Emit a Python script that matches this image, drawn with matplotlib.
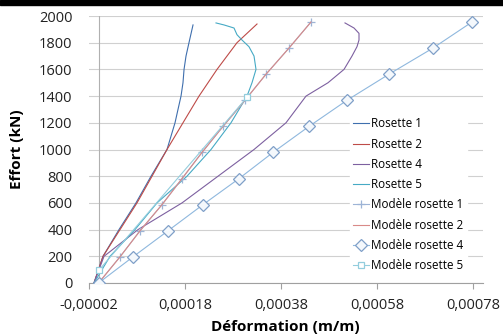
import matplotlib.pyplot as plt
from matplotlib.patches import Rectangle

plt.rcParams['font.family'] = ['Open Sans', 'DejaVu Sans']

# Mesures (déformation en m/m, effort en kN)
r1_eps = [-0.0000096, 0.0000092, 0.0000425, 0.0000779, 0.0001092, 0.0001425, 0.0001592,
          0.0001654, 0.0001717, 0.0001758, 0.000178, 0.0001821, 0.0001883, 0.0001946, 0.0001967]
r1_eff = [0, 200, 400, 600, 800, 1000, 1200, 1300, 1400, 1500, 1600, 1700, 1800, 1900, 1933]

r2_eps = [-0.0000096, 0.0000092, 0.0000446, 0.00008, 0.0001113, 0.0001425, 0.0001758,
          0.0002092, 0.0002467, 0.0002883, 0.00033]
r2_eff = [0, 200, 400, 600, 800, 1000, 1200, 1400, 1600, 1800, 1940]

r4_eps = [-0.0000096, 0.0000113, 0.0000821, 0.0001738, 0.0002488, 0.0003238, 0.0003904,
          0.0004321, 0.0004779, 0.0005113, 0.0005279, 0.0005383, 0.0005425, 0.0005425,
          0.0005321, 0.0005133]
r4_eff = [0, 200, 400, 600, 800, 1000, 1200, 1400, 1500, 1600, 1700, 1770, 1820, 1870, 1910, 1948]

r5_eps = [-0.0000096, 0.0000238, 0.0000758, 0.0001217, 0.0001842, 0.0002342, 0.0002758,
          0.0003092, 0.0003196, 0.0003279, 0.0003238, 0.0003133, 0.0002988, 0.0002883,
          0.0002821, 0.0002613, 0.0002446]
r5_eff = [0, 200, 400, 600, 800, 1000, 1200, 1400, 1500, 1600, 1700, 1770, 1820, 1860,
          1910, 1933, 1948]

# Modèles
m_eff = [0, 196, 391, 587, 782, 978, 1173, 1369, 1564, 1760, 1955]
m2_eps = [0, 0.0000446, 0.0000863, 0.0001321, 0.0001738, 0.0002154, 0.0002592,
          0.000305, 0.0003488, 0.0003967, 0.0004425]
m1_eps = m2_eps
m4_eps = [0, 0.0000717, 0.0001446, 0.0002175, 0.0002925, 0.0003633, 0.0004383,
          0.0005175, 0.000605, 0.0006967, 0.0007779]
m5_eps = [0.000001, 0.000309]
m5_eff = [97, 1390]

x_ticks = [-0.00002, 0.00018, 0.00038, 0.00058, 0.00078]
x_labels = ['-0,00002', '0,00018', '0,00038', '0,00058', '0,00078']
y_ticks = list(range(0, 2001, 200))

fig = plt.figure(figsize=(5.03, 3.36), dpi=100)
ax = fig.add_axes([89 / 503, 1 - 283 / 336, 393.6 / 503, 267 / 336])

# bandeau noir en haut
fig.patches.append(Rectangle((0, 1 - 4.5 / 336), 1, 4.5 / 336, transform=fig.transFigure,
                             color='black', zorder=10))

lw = 0.8
ax.plot(r1_eps, r1_eff, color='#3F6FAE', lw=lw, label='Rosette 1', zorder=3)
ax.plot(r2_eps, r2_eff, color='#BE4B48', lw=lw, label='Rosette 2', zorder=3)
ax.plot(r4_eps, r4_eff, color='#7D60A0', lw=lw, label='Rosette 4', zorder=3)
ax.plot(r5_eps, r5_eff, color='#46AAC5', lw=lw, label='Rosette 5', zorder=3)
ax.plot(m1_eps, m_eff, color='#9DB4D6', lw=lw, marker='+', ms=6, mew=0.9,
        label='Modèle rosette 1', zorder=4)
ax.plot(m2_eps, m_eff, color='#D98A88', lw=lw, label='Modèle rosette 2', zorder=4)
ax.plot(m4_eps, m_eff, color='#8FB8DE', lw=lw, marker='D', ms=6.5, mfc='#F4F8FC',
        mec='#7F9FC8', mew=0.9, label='Modèle rosette 4', zorder=4)
ax.plot(m5_eps, m5_eff, color='#93CDDD', lw=lw, marker='s', ms=5, mfc='white',
        mec='#93CDDD', mew=0.9, label='Modèle rosette 5', zorder=4)

ax.set_xlim(-0.00002, 0.00080)
ax.set_ylim(0, 2000)
ax.set_xticks(x_ticks)
ax.set_xticklabels(x_labels)
ax.set_yticks(y_ticks)

ax.grid(axis='y', color='#D0D0D0', lw=0.8)
ax.set_axisbelow(True)
for s in ['top', 'right', 'left']:
    ax.spines[s].set_visible(False)
ax.spines['bottom'].set_color('#A0A0A0')
ax.spines['bottom'].set_linewidth(0.8)
ax.axvline(0, color='#B0B0B0', lw=0.8, zorder=1)

ax.tick_params(axis='y', length=0, pad=12, labelsize=10.5, labelcolor='#222222')
ax.tick_params(axis='x', length=4, width=0.8, color='#A0A0A0', pad=7, labelsize=10.5,
               labelcolor='#222222')

ax.set_xlabel('Déformation (m/m)', fontsize=11, fontweight='bold', labelpad=5)
ax.set_ylabel('Effort (kN)', fontsize=11, fontweight='bold', labelpad=11)

leg = ax.legend(loc='upper left', bbox_to_anchor=(0.648, 0.655), fontsize=8.4,
                frameon=True, fancybox=False, framealpha=1, edgecolor='white',
                handlelength=1.3, handletextpad=0.2, labelspacing=0.62, borderpad=0.3)
leg.set_zorder(5)

fig.savefig('out.png', dpi=100)
